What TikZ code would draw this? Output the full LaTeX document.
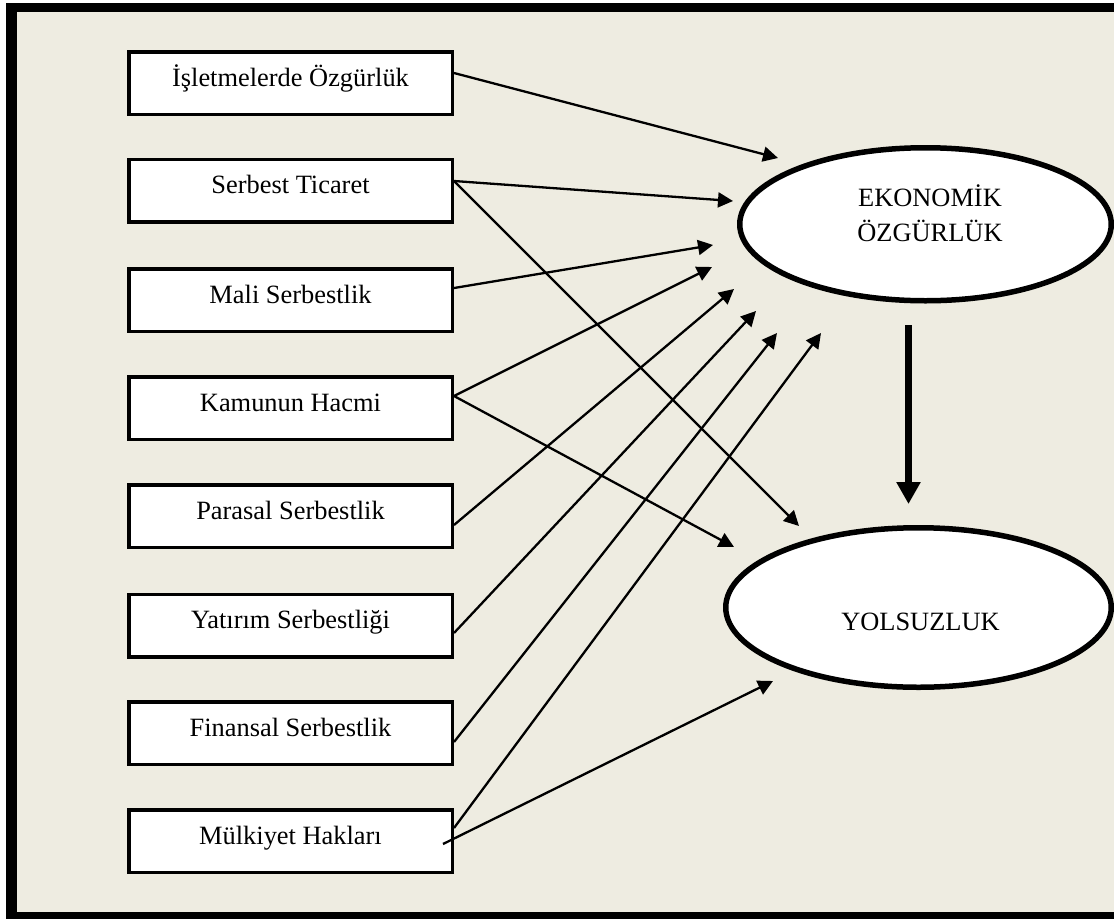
\documentclass[tikz,border=0pt]{standalone}
\usepackage{fontspec}
\setmainfont{Liberation Serif}
\usetikzlibrary{arrows.meta,shapes.geometric}
\definecolor{bgtan}{HTML}{EEECE1}
\begin{document}
\begin{tikzpicture}[x=1pt,y=-1pt,
  every node/.style={font=\fontsize{26.4}{31}\selectfont},
  factor/.style={draw, line width=3.5pt, fill=white, minimum width=323.5pt, minimum height=62.5pt, inner sep=0pt, text height=17pt, text depth=11pt},
  latent/.style={ellipse, draw, line width=5.5pt, fill=white, inner sep=0pt},
  link/.style={line width=2.3pt, -{Triangle[length=15pt,width=15pt]}},
  effect/.style={line width=7.5pt, -{Triangle[length=22pt,width=23pt]}},
  ltext/.style={inner sep=0pt, anchor=base}]
\fill[white] (0,0) rectangle (1114,919);
\fill[black] (6,3) rectangle (1114,919);
\fill[bgtan] (17,12) rectangle (1114,912);
\useasboundingbox (0,0) rectangle (1114,919);

% boxes
\node[factor] (b1) at (290.5,83) {İşletmelerde Özgürlük};
\node[factor] (b2) at (290.5,190.5) {Serbest Ticaret};
\node[factor] (b3) at (290.5,300) {Mali Serbestlik};
\node[factor] (b4) at (290.5,408) {Kamunun Hacmi};
\node[factor] (b5) at (290.5,516) {Parasal Serbestlik};
\node[factor] (b6) at (290.5,625.5) {Yatırım Serbestliği};
\node[factor] (b7) at (290.5,733) {Finansal Serbestlik};
\node[factor] (b8) at (290.5,841) {Mülkiyet Hakları};

% ellipses
\node[latent, minimum width=371.5pt, minimum height=153pt] (eko) at (925.5,224.25) {};
\node[ltext] (eko1) at (930,206) {EKONOMİK};
\node[ltext] (eko2) at (930,241) {ÖZGÜRLÜK};
\node[latent, minimum width=385.5pt, minimum height=159.5pt] (yol) at (918.5,607.5) {};
\node[ltext] (yoltext) at (920.5,630) {YOLSUZLUK};

% arrow tips
\coordinate (t1) at (778,158);
\coordinate (t2) at (733,201);
\coordinate (t3) at (799,526);
\coordinate (t4) at (713,245);
\coordinate (t5) at (712,267);
\coordinate (t6) at (734,547);
\coordinate (t7) at (734,289);
\coordinate (t8) at (756,311);
\coordinate (t9) at (777,333);
\coordinate (t10) at (821,333);
\coordinate (t11) at (773,681);
\coordinate (e1) at (908.5,325);
\coordinate (e2) at (908.5,504);

% connectors
\draw[link] ([yshift=10pt]b1.east) -- (t1);
\draw[link] ([yshift=9.5pt]b2.east) -- (t2);
\draw[link] ([yshift=9.5pt]b2.east) -- (t3);
\draw[link] ([yshift=12pt]b3.east) -- (t4);
\draw[link] ([yshift=12pt]b4.east) -- (t5);
\draw[link] ([yshift=12pt]b4.east) -- (t6);
\draw[link] ([yshift=-9pt]b5.east) -- (t7);
\draw[link] ([yshift=-7.5pt]b6.east) -- (t8);
\draw[link] ([yshift=-9pt]b7.east) -- (t9);
\draw[link] ([yshift=13pt]b8.east) -- (t10);
\draw[link] ([xshift=-11pt,yshift=-3pt]b8.east) -- (t11);
\draw[effect] (e1) -- (e2);
\end{tikzpicture}
\end{document}
